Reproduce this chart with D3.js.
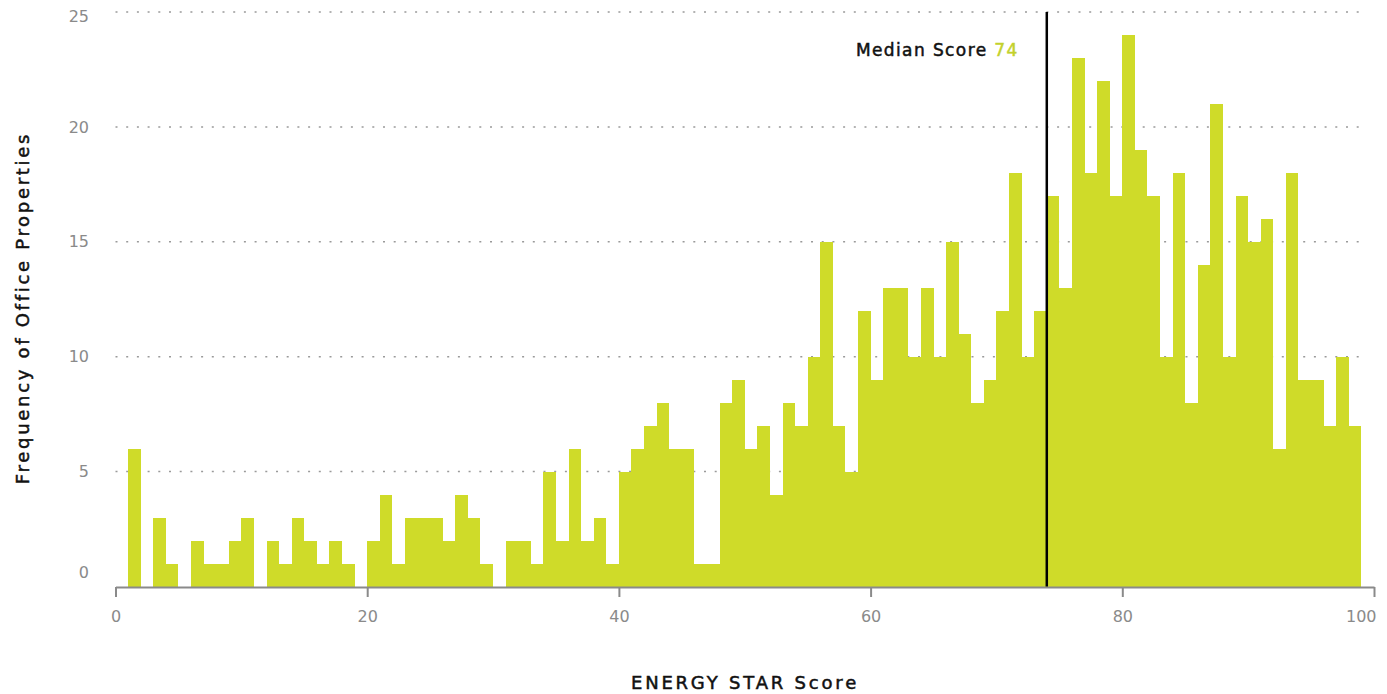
<!DOCTYPE html>
<html>
<head>
<meta charset="utf-8">
<script src="https://cdn.jsdelivr.net/npm/d3@7"></script>
<style>
  body { margin: 0; background: #fff; }
  svg text { font-family: "DejaVu Sans", sans-serif; }
  .title { stroke: #111; stroke-width: 0.5px; }
</style>
</head>
<body>
<div id="chart"></div>
<script>
const width = 1387,
    height = 694;

// score bins (each bar spans score .. score+1)
const scores = [1, 2, 3, 4, 5, 6, 7, 8, 9, 10, 11, 12, 13, 14, 15, 16, 17, 18, 19, 20,
    21, 22, 23, 24, 25, 26, 27, 28, 29, 30, 31, 32, 33, 34, 35, 36, 37, 38, 39, 40,
    41, 42, 43, 44, 45, 46, 47, 48, 49, 50, 51, 52, 53, 54, 55, 56, 57, 58, 59, 60,
    61, 62, 63, 64, 65, 66, 67, 68, 69, 70, 71, 72, 73, 74, 75, 76, 77, 78, 79, 80,
    81, 82, 83, 84, 85, 86, 87, 88, 89, 90, 91, 92, 93, 94, 95, 96, 97, 98];
// number of office properties per score
const counts = [6, 0, 3, 1, 0, 2, 1, 1, 2, 3, 0, 2, 1, 3, 2, 1, 2, 1, 0, 2,
    4, 1, 3, 3, 3, 2, 4, 3, 1, 0, 2, 2, 1, 5, 2, 6, 2, 3, 1, 5,
    6, 7, 8, 6, 6, 1, 1, 8, 9, 6, 7, 4, 8, 7, 10, 15, 7, 5, 12, 9,
    13, 13, 10, 13, 10, 15, 11, 8, 9, 12, 18, 10, 12, 17, 13, 23, 18, 22, 17, 24,
    19, 17, 10, 18, 8, 14, 21, 10, 17, 15, 16, 6, 18, 9, 9, 7, 10, 7];
const xTicks = [0, 20, 40, 60, 80, 100];
const yTicks = [0, 5, 10, 15, 20, 25];
const medianScore = 74;

const green = '#cfdb29',
    gray = '#8a8a8a';

let svg = d3.select('#chart')
    .append('svg')
    .attr('width', width)
    .attr('height', height);

let xScale = d3.scaleLinear()
    .domain([0, 100])
    .range([115.5, 1374]);
let yScale = d3.scaleLinear()
    .domain([0, 25])
    .range([586.5, 12]);

// dotted gridlines
svg.append('g')
    .selectAll('line')
    .data(yTicks.filter(d => d > 0))
    .enter()
    .append('line')
    .attr('x1', xScale(0))
    .attr('x2', 1367)
    .attr('y1', d => yScale(d))
    .attr('y2', d => yScale(d))
    .attr('stroke', '#9a9a9a')
    .attr('stroke-width', 1.5)
    .attr('stroke-dasharray', '2 8.7');

// bars
svg.append('g')
    .selectAll('rect')
    .data(scores)
    .enter()
    .append('rect')
    .attr('x', d => xScale(d))
    .attr('width', d => xScale(d + 1) - xScale(d))
    .attr('y', (d, i) => yScale(counts[i]))
    .attr('height', (d, i) => yScale(0) - yScale(counts[i]))
    .attr('fill', green)
    .attr('shape-rendering', 'crispEdges');

// x axis
let xAxis = d3.axisBottom(xScale)
    .tickValues(xTicks)
    .tickSize(10)
    .tickSizeOuter(0)
    .tickPadding(14);
let xAxisG = svg.append('g')
    .attr('transform', 'translate(0,' + 587 + ')')
    .call(xAxis);
xAxisG.select('.domain').attr('stroke', gray).attr('stroke-width', 2);
xAxisG.selectAll('.tick line').attr('stroke', gray).attr('stroke-width', 2);
xAxisG.selectAll('.tick text')
    .attr('fill', gray)
    .style('font-family', '"DejaVu Sans", sans-serif')
    .style('font-size', '16px')
    .attr('text-anchor', d => d == 100 ? 'end' : 'middle')
    .attr('dx', d => d == 100 ? 2 : 0);

// y tick labels
svg.append('g')
    .selectAll('text')
    .data(yTicks)
    .enter()
    .append('text')
    .attr('x', 89)
    .attr('y', d => yScale(d) + (d == 0 ? -14 : d == 25 ? 4 : 0))
    .attr('dy', '0.35em')
    .attr('text-anchor', 'end')
    .attr('fill', gray)
    .style('font-size', '16px')
    .text(d => d);

// median line
svg.append('line')
    .attr('x1', xScale(medianScore))
    .attr('x2', xScale(medianScore))
    .attr('y1', yScale(25))
    .attr('y2', yScale(0))
    .attr('stroke', '#000')
    .attr('stroke-width', 2.5);

let medLabel = svg.append('text')
    .attr('class', 'title')
    .attr('x', xScale(medianScore) - 28)
    .attr('y', 56)
    .attr('text-anchor', 'end')
    .style('font-size', '17px')
    .style('letter-spacing', '1.4px')
    .attr('fill', '#111');
medLabel.append('tspan').text('Median Score ');
medLabel.append('tspan')
    .attr('fill', '#c3d12c')
    .attr('stroke', '#c3d12c')
    .text(medianScore);

// axis titles
svg.append('text')
    .attr('class', 'title')
    .attr('x', 745)
    .attr('y', 689)
    .attr('text-anchor', 'middle')
    .style('font-size', '18px')
    .style('letter-spacing', '2.8px')
    .attr('fill', '#111')
    .text('ENERGY STAR Score');

svg.append('text')
    .attr('class', 'title')
    .attr('transform', 'translate(29,308) rotate(-90)')
    .attr('text-anchor', 'middle')
    .style('font-size', '18px')
    .style('letter-spacing', '2.7px')
    .attr('fill', '#111')
    .text('Frequency of Office Properties');
</script>
</body>
</html>
